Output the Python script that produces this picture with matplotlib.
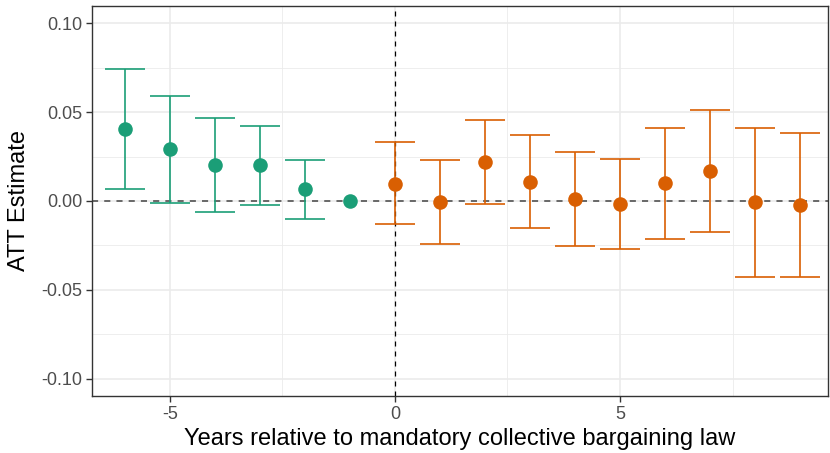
import numpy as np
import matplotlib
matplotlib.use("Agg")
import matplotlib.pyplot as plt
from matplotlib.ticker import MultipleLocator

plt.rcParams['font.family'] = ['Liberation Sans', 'DejaVu Sans']

# event time, estimate and confidence bounds
pre_t = [-6, -5, -4, -3, -2, -1]
pre_att = [0.0404, 0.0292, 0.0202, 0.0200, 0.0067, 0.0]
pre_lo = [0.0066, -0.0010, -0.0064, -0.0021, -0.0099, np.nan]
pre_hi = [0.0743, 0.0592, 0.0468, 0.0423, 0.0232, np.nan]

post_t = [0, 1, 2, 3, 4, 5, 6, 7, 8, 9]
post_att = [0.0097, -0.0004, 0.0221, 0.0109, 0.0010, -0.0017, 0.0099, 0.0170, -0.0006, -0.0024]
post_lo = [-0.0131, -0.0242, -0.0019, -0.0154, -0.0255, -0.0268, -0.0212, -0.0172, -0.0425, -0.0429]
post_hi = [0.0330, 0.0230, 0.0457, 0.0371, 0.0275, 0.0236, 0.0412, 0.0510, 0.0410, 0.0382]

green = "#1B9E77"
orange = "#D95F02"
cap = 0.45

fig = plt.figure(figsize=(8.3, 4.53), dpi=100)
ax = fig.add_axes([0.1108, 0.1258, 0.8868, 0.861])

# grid like theme_bw
ax.xaxis.set_major_locator(MultipleLocator(5))
ax.xaxis.set_minor_locator(MultipleLocator(2.5))
ax.yaxis.set_major_locator(MultipleLocator(0.05))
ax.yaxis.set_minor_locator(MultipleLocator(0.025))
ax.grid(which='major', color='#EBEBEB', lw=1.2, zorder=0)
ax.grid(which='minor', color='#EBEBEB', lw=0.6, zorder=0)
ax.set_axisbelow(True)

ax.axhline(0, color='#444444', lw=1.1, ls=(0, (4, 4)), zorder=1)
ax.axvline(0, color='black', lw=0.9, ls=(0, (4, 4)), zorder=1)

for t, att, lo, hi, col in [(pre_t, pre_att, pre_lo, pre_hi, green),
                            (post_t, post_att, post_lo, post_hi, orange)]:
    t = np.array(t, dtype=float)
    lo = np.array(lo)
    hi = np.array(hi)
    ok = ~np.isnan(lo)
    ax.vlines(t[ok], lo[ok], hi[ok], color=col, lw=1.2, zorder=2)
    ax.hlines(lo[ok], t[ok] - cap, t[ok] + cap, color=col, lw=1.2, zorder=2)
    ax.hlines(hi[ok], t[ok] - cap, t[ok] + cap, color=col, lw=1.2, zorder=2)
    ax.scatter(t, att, s=110, color=col, zorder=3, linewidths=0)

ax.set_xlim(-6.73, 9.62)
ax.set_ylim(-0.1096, 0.1096)
ax.set_xticks([-5, 0, 5])
ax.set_xticklabels(['-5', '0', '5'])
ax.set_yticks([-0.10, -0.05, 0.0, 0.05, 0.10])
ax.set_yticklabels(['-0.10', '-0.05', '0.00', '0.05', '0.10'])

for s in ax.spines.values():
    s.set_color('#333333')
    s.set_linewidth(1.0)
ax.tick_params(which='major', length=4, width=1.0, color='#333333',
               labelcolor='#4D4D4D', labelsize=13, pad=3)
ax.tick_params(which='minor', length=0)

ax.set_ylabel('ATT Estimate', fontsize=17, labelpad=8)
ax.set_xlabel('Years relative to mandatory collective bargaining law', fontsize=17, labelpad=4)

fig.savefig('out.png', dpi=100)
